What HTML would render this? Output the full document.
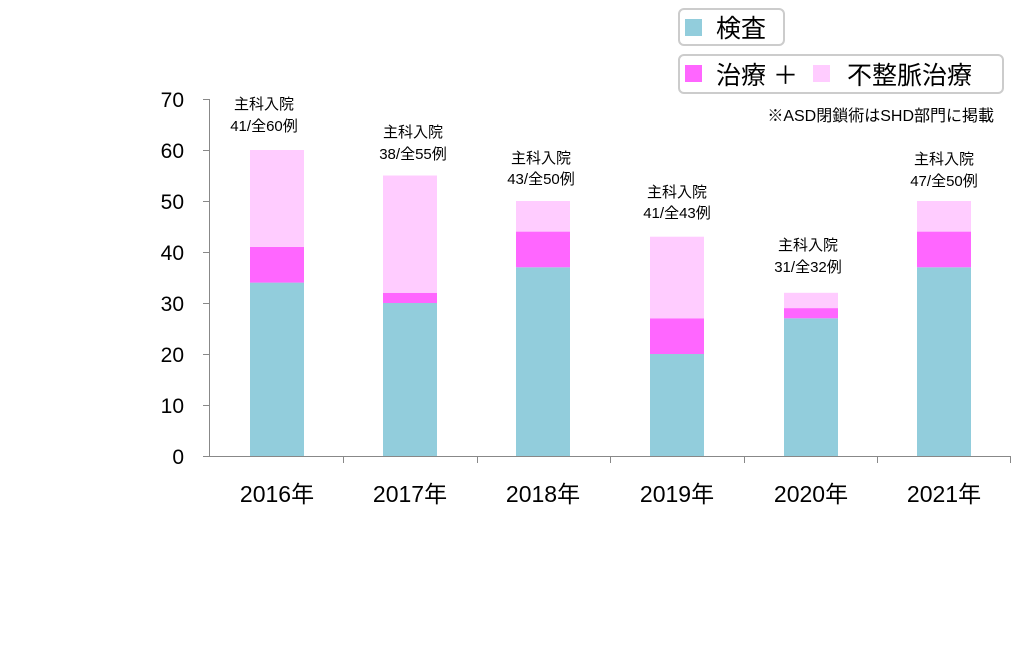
<!DOCTYPE html>
<html><head><meta charset="utf-8"><style>
body{margin:0;background:#fff;}
svg text{font-family:"Liberation Sans","Noto Sans CJK JP",sans-serif;fill:#000;}
</style></head><body>
<svg width="1024" height="645" viewBox="0 0 1024 645" xmlns="http://www.w3.org/2000/svg">
<g stroke="#888" stroke-width="1">
<line x1="209.5" y1="99" x2="209.5" y2="456"/>
<line x1="209" y1="456.5" x2="1011" y2="456.5"/>
<line x1="203" y1="99.5" x2="209" y2="99.5"/>
<line x1="203" y1="150.5" x2="209" y2="150.5"/>
<line x1="203" y1="201.5" x2="209" y2="201.5"/>
<line x1="203" y1="252.5" x2="209" y2="252.5"/>
<line x1="203" y1="303.5" x2="209" y2="303.5"/>
<line x1="203" y1="354.5" x2="209" y2="354.5"/>
<line x1="203" y1="405.5" x2="209" y2="405.5"/>
<line x1="203" y1="456.5" x2="209" y2="456.5"/>
<line x1="343.5" y1="456" x2="343.5" y2="463"/>
<line x1="477.5" y1="456" x2="477.5" y2="463"/>
<line x1="610.5" y1="456" x2="610.5" y2="463"/>
<line x1="744.5" y1="456" x2="744.5" y2="463"/>
<line x1="877.5" y1="456" x2="877.5" y2="463"/>
<line x1="1010.5" y1="456" x2="1010.5" y2="463"/>
</g>
<g font-size="21" text-anchor="end">
<text x="184" y="107">70</text><text x="184" y="158">60</text><text x="184" y="209">50</text>
<text x="184" y="260">40</text><text x="184" y="311">30</text><text x="184" y="362">20</text>
<text x="184" y="413">10</text><text x="184" y="464">0</text>
</g>
<g>
<rect x="250" y="282.6" width="54" height="173.4" fill="#92CDDC"/><rect x="250" y="246.9" width="54" height="35.7" fill="#FF66FF"/><rect x="250" y="150" width="54" height="96.9" fill="#FFCCFF"/>
<rect x="383" y="303" width="54" height="153" fill="#92CDDC"/><rect x="383" y="292.8" width="54" height="10.2" fill="#FF66FF"/><rect x="383" y="175.5" width="54" height="117.3" fill="#FFCCFF"/>
<rect x="516" y="267.3" width="54" height="188.7" fill="#92CDDC"/><rect x="516" y="231.6" width="54" height="35.7" fill="#FF66FF"/><rect x="516" y="201" width="54" height="30.6" fill="#FFCCFF"/>
<rect x="650" y="354" width="54" height="102" fill="#92CDDC"/><rect x="650" y="318.3" width="54" height="35.7" fill="#FF66FF"/><rect x="650" y="236.7" width="54" height="81.6" fill="#FFCCFF"/>
<rect x="784" y="318.3" width="54" height="137.7" fill="#92CDDC"/><rect x="784" y="308.1" width="54" height="10.2" fill="#FF66FF"/><rect x="784" y="292.8" width="54" height="15.3" fill="#FFCCFF"/>
<rect x="917" y="267.3" width="54" height="188.7" fill="#92CDDC"/><rect x="917" y="231.6" width="54" height="35.7" fill="#FF66FF"/><rect x="917" y="201" width="54" height="30.6" fill="#FFCCFF"/>
</g>
<g font-size="23" text-anchor="middle">
<text x="277" y="502">2016年</text><text x="410" y="502">2017年</text><text x="543" y="502">2018年</text>
<text x="677" y="502">2019年</text><text x="811" y="502">2020年</text><text x="944" y="502">2021年</text>
</g>
<g font-size="15" text-anchor="middle">
<text x="264" y="109">主科入院</text><text x="264" y="131">41/全60例</text>
<text x="413" y="137">主科入院</text><text x="413" y="159">38/全55例</text>
<text x="541" y="163">主科入院</text><text x="541" y="184">43/全50例</text>
<text x="677" y="197">主科入院</text><text x="677" y="218">41/全43例</text>
<text x="808" y="250">主科入院</text><text x="808" y="272">31/全32例</text>
<text x="944" y="164">主科入院</text><text x="944" y="186">47/全50例</text>
</g>
<rect x="679" y="9" width="105" height="36" rx="5" fill="#fff" stroke="#ccc" stroke-width="2"/>
<rect x="685" y="19" width="17" height="17" fill="#92CDDC"/>
<text x="716" y="37" font-size="25">検査</text>
<rect x="679" y="55" width="324" height="38" rx="5" fill="#fff" stroke="#ccc" stroke-width="2"/>
<rect x="685" y="65" width="17" height="17" fill="#FF66FF"/>
<text x="716" y="84" font-size="25">治療 ＋</text>
<rect x="813" y="65" width="17" height="17" fill="#FFCCFF"/>
<text x="847" y="84" font-size="25">不整脈治療</text>
<text x="994" y="121" font-size="16" text-anchor="end">※ASD閉鎖術はSHD部門に掲載</text>
</svg>
</body></html>
